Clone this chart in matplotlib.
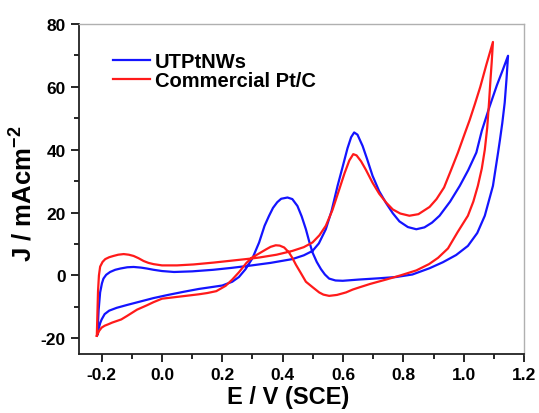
import matplotlib
matplotlib.use("Agg")
import matplotlib.pyplot as plt
from matplotlib.ticker import AutoMinorLocator

plt.rcParams['font.family'] = ['Liberation Sans', 'DejaVu Sans']
plt.rcParams['font.weight'] = 'bold'
plt.rcParams['axes.labelweight'] = 'bold'
plt.rcParams['axes.unicode_minus'] = False
plt.rcParams['mathtext.fontset'] = 'custom'
plt.rcParams['mathtext.rm'] = 'Liberation Sans:bold'
plt.rcParams['mathtext.it'] = 'Liberation Sans:bold'
plt.rcParams['mathtext.bf'] = 'Liberation Sans:bold'

# UTPtNWs cycle: forward (upper) branch then reverse (lower) branch
utpt_e = [-0.214, -0.210, -0.205, -0.199, -0.194, -0.185, -0.172, -0.155, -0.138, -0.115,
          -0.094, -0.070, -0.050, -0.028, 0.000, 0.040, 0.100, 0.170, 0.230, 0.290,
          0.360, 0.432, 0.470, 0.499, 0.520, 0.543, 0.562, 0.582, 0.600, 0.615,
          0.627, 0.637, 0.648, 0.665, 0.680, 0.698, 0.720, 0.743, 0.765, 0.787,
          0.815, 0.843, 0.870, 0.895, 0.920, 0.955, 0.987, 1.015, 1.042, 1.060,
          1.085, 1.110, 1.130, 1.147,
          1.142, 1.136, 1.128, 1.120, 1.114, 1.097, 1.070, 1.045, 1.014, 0.975,
          0.931, 0.887, 0.830, 0.776, 0.720, 0.654, 0.599, 0.575, 0.554, 0.540,
          0.527, 0.513, 0.499, 0.488, 0.477, 0.463, 0.449, 0.432, 0.416, 0.395,
          0.382, 0.368, 0.355, 0.340, 0.322, 0.300, 0.277, 0.255, 0.233, 0.200,
          0.172, 0.122, 0.072, 0.020, -0.028, -0.072, -0.116, -0.150, -0.175, -0.190,
          -0.200, -0.205, -0.210, -0.214]
utpt_j = [-18.7, -11.0, -5.4, -2.5, -1.0, 0.2, 1.1, 1.8, 2.2, 2.6,
          2.7, 2.5, 2.2, 1.8, 1.4, 1.1, 1.3, 1.8, 2.4, 3.1,
          4.0, 5.2, 6.4, 7.8, 10.2, 14.7, 20.5, 28.5, 35.0, 40.5,
          44.0, 45.5, 44.8, 41.2, 37.0, 31.7, 26.8, 23.0, 19.8, 17.2,
          15.4, 14.7, 15.3, 16.8, 19.0, 23.5, 28.5, 33.5, 39.1, 46.0,
          53.5, 60.5, 65.5, 69.9,
          62.5, 55.0, 48.5, 43.0, 39.1, 28.5, 19.0, 13.5, 9.4, 6.5,
          4.2, 2.3, 0.3, -0.5, -0.9, -1.3, -1.7, -1.6, -1.0, 0.3,
          2.0, 4.3, 7.3, 10.8, 14.7, 18.8, 22.1, 24.3, 24.8, 24.4,
          23.3, 21.5, 19.0, 15.8, 10.5, 5.5, 2.0, -0.5, -2.0, -3.2,
          -3.6, -4.3, -5.2, -6.2, -7.2, -8.3, -9.4, -10.3, -11.2, -12.3,
          -14.0, -15.2, -17.0, -18.7]

# Commercial Pt/C cycle
ptc_e = [-0.216, -0.214, -0.212, -0.209, -0.205, -0.197, -0.188, -0.175, -0.161, -0.145,
         -0.127, -0.110, -0.094, -0.078, -0.061, -0.045, -0.028, 0.000, 0.050, 0.105,
         0.172, 0.230, 0.288, 0.322, 0.380, 0.432, 0.470, 0.499, 0.522, 0.543,
         0.565, 0.588, 0.605, 0.621, 0.634, 0.645, 0.660, 0.676, 0.698, 0.720,
         0.743, 0.765, 0.790, 0.820, 0.850, 0.887, 0.910, 0.935, 0.958, 0.981,
         1.003, 1.020, 1.037, 1.055, 1.075, 1.097,
         1.093, 1.089, 1.084, 1.078, 1.070, 1.060, 1.047, 1.032, 1.014, 0.980,
         0.948, 0.915, 0.885, 0.843, 0.790, 0.743, 0.690, 0.654, 0.632, 0.610,
         0.580, 0.554, 0.535, 0.521, 0.500, 0.477, 0.460, 0.444, 0.432, 0.421,
         0.405, 0.390, 0.377, 0.360, 0.345, 0.322, 0.300, 0.280, 0.255, 0.233,
         0.211, 0.180, 0.150, 0.122, 0.070, 0.000, -0.028, -0.050, -0.083, -0.116,
         -0.135, -0.150, -0.165, -0.177, -0.190, -0.200, -0.208, -0.216]
ptc_j = [-19.2, -12.0, -5.0, 0.0, 2.8, 4.3, 5.2, 5.8, 6.2, 6.6,
         6.8, 6.6, 6.2, 5.5, 4.6, 4.0, 3.6, 3.2, 3.2, 3.5,
         4.1, 4.7, 5.3, 5.7, 6.6, 7.8, 9.0, 10.5, 12.8, 15.8,
         20.8, 27.5, 32.5, 36.6, 38.6, 38.2, 36.3, 33.6, 29.5, 26.0,
         23.2, 21.0, 19.7, 19.0, 19.5, 21.8, 24.3, 28.0, 33.5, 39.1,
         45.0, 49.5, 54.5, 60.0, 67.0, 74.3,
         68.0, 62.5, 55.0, 47.0, 40.0, 34.0, 28.5, 23.5, 19.0, 13.8,
         8.6, 5.6, 3.6, 1.6, 0.0, -1.3, -2.7, -3.8, -4.5, -5.4,
         -6.2, -6.5, -6.1, -5.4, -3.8, -2.0, 0.8, 3.4, 5.6, 7.3,
         8.9, 9.5, 9.6, 9.1, 8.3, 7.0, 5.8, 4.0, 1.0, -1.3,
         -3.3, -5.0, -5.6, -6.0, -6.6, -7.4, -8.5, -9.5, -10.9, -12.9,
         -14.0, -14.5, -15.0, -15.5, -16.0, -16.6, -17.6, -19.2]

fig = plt.figure(figsize=(5.39, 4.14), dpi=100)
ax = fig.add_axes([0.1466, 0.1425, 0.8256, 0.797])

ax.plot(utpt_e, utpt_j, color='#1414ff', lw=1.6, label='UTPtNWs')
ax.plot(ptc_e, ptc_j, color='#ff1a1a', lw=1.6, label='Commercial Pt/C')

ax.set_xlim(-0.275, 1.2)
ax.set_ylim(-25, 80)
ax.set_xticks([-0.2, 0.0, 0.2, 0.4, 0.6, 0.8, 1.0, 1.2])
ax.set_yticks([-20, 0, 20, 40, 60, 80])
ax.xaxis.set_minor_locator(AutoMinorLocator(2))
ax.yaxis.set_minor_locator(AutoMinorLocator(2))
ax.tick_params(which='major', direction='out', length=6, width=1.2, labelsize=12.5)
ax.tick_params(which='minor', direction='out', length=3.5, width=1.2)

for s in ['left', 'bottom']:
    ax.spines[s].set_linewidth(1.3)
    ax.spines[s].set_color('#222222')
for s in ['top', 'right']:
    ax.spines[s].set_linewidth(1.0)
    ax.spines[s].set_color('#b0b0b0')

ax.set_xlabel('E / V (SCE)', fontsize=17)
ax.set_ylabel(r'J / mAcm$^{-2}$', fontsize=18.5)
ax.xaxis.set_label_coords(0.47, -0.093)
ax.yaxis.set_label_coords(-0.095, 0.49)

ax.legend(loc='upper left', bbox_to_anchor=(0.076, 0.915), frameon=False,
          fontsize=14.5, handlelength=1.85, handletextpad=0.25, labelspacing=0.0,
          borderpad=0, borderaxespad=0)

plt.savefig('out.png', dpi=100)
